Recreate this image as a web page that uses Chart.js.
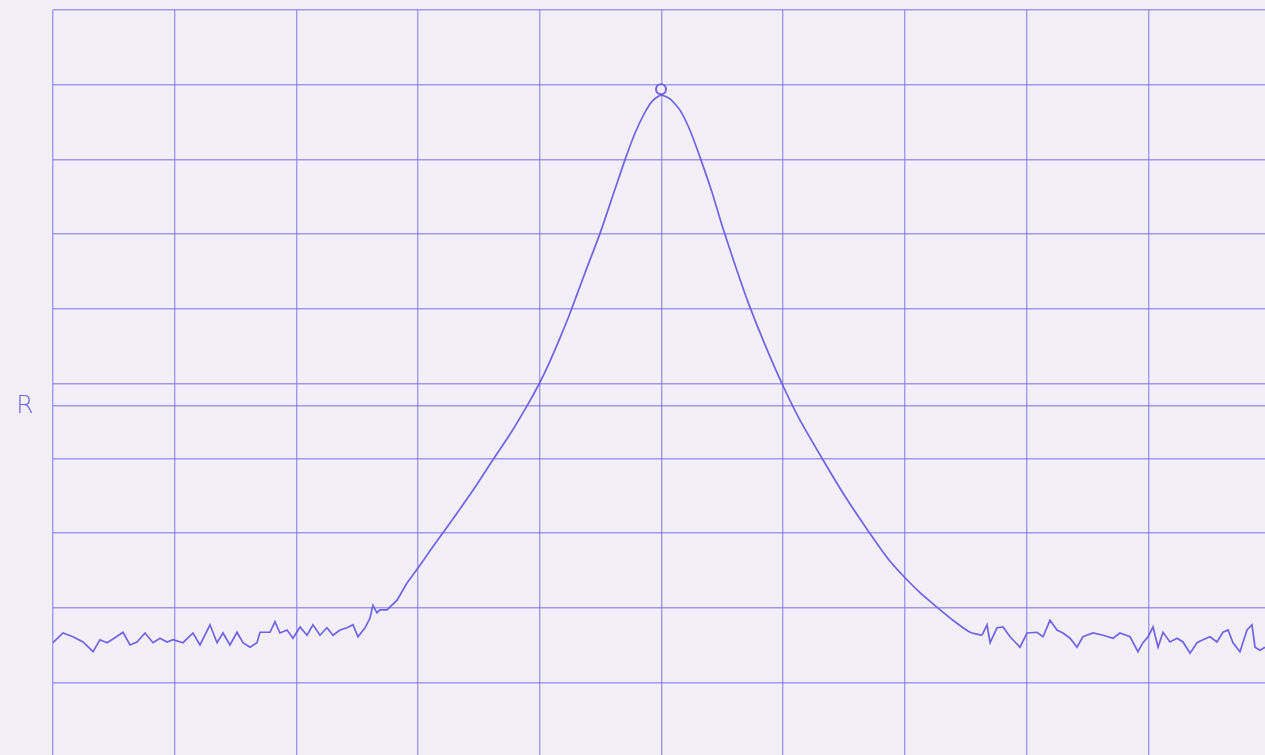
<!DOCTYPE html>
<html>
<head>
<meta charset="utf-8">
<title>R trace</title>
<script src="https://cdn.jsdelivr.net/npm/chart.js@4"></script>
<style>
    html, body { margin: 0; padding: 0; overflow: hidden; background: #f2eff8; }
    #wrap { position: absolute; left: 0; top: 0; width: 1280px; height: 770px; }
</style>
</head>
<body>
<div id="wrap"><canvas id="trace" width="1280" height="770"></canvas></div>
<script>
// recorder trace, grid units 0..100 on both axes

// flat noisy floor, left of the peak
const floorLeftX = [0, 0.82, 1.64, 2.47, 3.29, 3.86, 4.44, 4.93, 5.75, 6.33, 6.90, 7.56, 8.22, 8.79, 9.37, 9.86,
    10.68, 11.50, 12.08, 12.90, 13.48, 13.97, 14.54, 15.12, 15.61, 16.19, 16.76, 17.01, 17.83, 18.24, 18.65,
    19.23, 19.72, 20.30, 20.87, 21.36, 21.94, 22.51, 23.01, 23.58, 24.16, 24.65, 25.06, 25.64, 26.05,
    26.29, 26.62, 26.87, 27.44, 28.27, 29.09];
const floorLeftY = [15.3, 16.6, 16.1, 15.4, 14.1, 15.7, 15.3, 15.8, 16.7, 15.0, 15.4, 16.6, 15.3, 15.9, 15.4, 15.7,
    15.3, 16.6, 15.0, 17.7, 15.3, 16.6, 15.0, 16.7, 15.3, 14.7, 15.3, 16.7, 16.7, 18.1, 16.6,
    17.0, 15.9, 17.4, 16.3, 17.7, 16.3, 17.3, 16.3, 17.0, 17.3, 17.7, 16.1, 17.3, 18.6,
    20.3, 19.3, 19.7, 19.7, 21.0, 23.3];

// rising flank up to the peak
const riseX = [29.09, 29.99, 30.98, 32.21, 33.44, 34.68, 36.07, 37.55, 38.95, 39.93, 40.76, 41.66, 42.48,
    43.71, 44.95, 46.01, 46.99, 47.82, 48.64, 49.30, 49.96];
const riseY = [23.3, 25.3, 27.6, 30.4, 33.2, 36.1, 39.6, 43.2, 47.0, 49.9, 52.7, 56.1, 59.4,
    64.8, 70.1, 75.2, 79.9, 83.5, 86.3, 87.9, 88.6];

// falling flank
const fallX = [50.70, 51.52, 52.34, 53.16, 54.15, 54.97, 56.04, 57.11, 58.50, 59.98, 61.38, 63.19, 65.08,
    66.97, 68.78, 70.01, 71.24, 72.31, 73.95, 75.35, 76.34];
const fallY = [88.1, 86.6, 83.9, 80.3, 75.6, 71.2, 65.9, 60.9, 55.2, 49.7, 45.1, 40.0, 34.9,
    30.3, 26.2, 24.0, 22.0, 20.5, 18.3, 16.7, 16.3];

// noisy floor, right of the peak
const floorRightX = [76.34, 76.75, 77.00, 77.57, 78.06, 78.64, 79.05, 79.46, 80.03, 80.85, 81.35, 81.92, 82.50, 82.99,
    83.57, 84.14, 84.63, 85.46, 86.28, 87.10, 87.67, 88.50, 89.15, 89.56, 89.98, 90.39, 90.80, 91.21, 91.78,
    92.36, 92.85, 93.43, 94.00, 94.49, 95.07, 95.64, 96.14, 96.55, 96.96, 97.53, 98.11, 98.52, 98.77, 99.18, 99.59];
const floorRightY = [16.3, 17.7, 15.3, 17.3, 17.4, 16.1, 15.4, 14.7, 16.6, 16.7, 16.1, 18.3, 17.0, 16.6,
    15.9, 14.7, 16.1, 16.6, 16.3, 15.9, 16.6, 16.1, 14.1, 15.3, 16.1, 17.4, 14.7, 16.7, 15.4,
    15.9, 15.4, 13.9, 15.3, 15.7, 16.1, 15.4, 16.7, 17.0, 15.3, 14.1, 17.0, 17.7, 14.7, 14.3, 14.7];

// peak marker
const markerX = [49.96];
const markerY = [89.4];

// grid
const gridStep = 10;
const extraRefLine = 47.0;
const axisLabel = "R";

const INK = "rgba(104, 92, 226, 0.95)";
const GRID = "rgba(108, 96, 232, 0.6)";
const PAPER = "#f2eff8";

function toPoints(xs, ys) {
    return xs.map((x, i) => ({ x: x, y: ys[i] }));
}

const peakPoints = [...toPoints(riseX, riseY), ...toPoints(fallX, fallY)];

function traceSet(points, tension) {
    return {
        data: points,
        showLine: true,
        borderColor: INK,
        borderWidth: 1.7,
        pointRadius: 0,
        tension: tension
    };
}

// the upright "R" beside the plot
const sideLabel = {
    id: "sideLabel",
    afterDraw(chart) {
        const ctx = chart.ctx;
        const y = chart.scales.y.getPixelForValue(extraRefLine);
        ctx.save();
        ctx.fillStyle = INK;
        ctx.font = "300 25px 'DejaVu Sans', sans-serif";
        ctx.textAlign = "center";
        ctx.textBaseline = "middle";
        ctx.fillText(axisLabel, 25, y + 1);
        ctx.restore();
    }
};

document.addEventListener("DOMContentLoaded", () => {
    const ctx = document.getElementById("trace").getContext("2d");

    const gridOpts = { color: GRID, lineWidth: 1.4, drawTicks: false };

    new Chart(ctx, {
        type: "scatter",
        data: {
            datasets: [
                traceSet(toPoints(floorLeftX, floorLeftY), 0),
                traceSet(peakPoints, 0.2),
                traceSet(toPoints(floorRightX, floorRightY), 0),
                {
                    data: toPoints(markerX, markerY),
                    pointStyle: "circle",
                    pointRadius: 5,
                    borderWidth: 2,
                    borderColor: INK,
                    backgroundColor: PAPER
                }
            ]
        },
        options: {
            responsive: false,
            animation: false,
            layout: { padding: { left: 53, top: 10, right: 10, bottom: 13 } },
            plugins: { legend: { display: false }, tooltip: { enabled: false } },
            scales: {
                x: {
                    type: "linear",
                    min: 0, max: 100,
                    ticks: { display: false, stepSize: gridStep },
                    grid: gridOpts,
                    border: { display: false }
                },
                y: {
                    type: "linear",
                    min: 0, max: 100,
                    ticks: { display: false, stepSize: gridStep },
                    afterBuildTicks: (scale) => {
                        scale.ticks.push({ value: extraRefLine });
                    },
                    grid: gridOpts,
                    border: { display: false }
                }
            }
        },
        plugins: [sideLabel]
    });
});
</script>
</body>
</html>
